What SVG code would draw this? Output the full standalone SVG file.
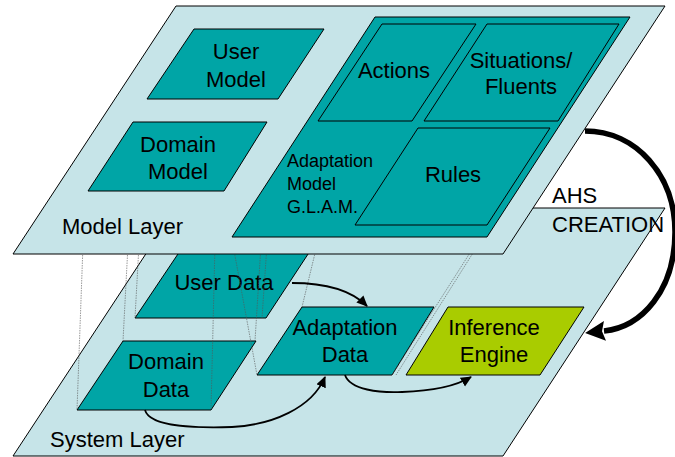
<svg xmlns="http://www.w3.org/2000/svg" width="675" height="457" viewBox="0 0 675 457">
<defs>
<style>
.layer{fill:#C6E4E8;stroke:#000;stroke-width:1}
.item{fill:#00A5A6;stroke:#000;stroke-width:1}
.eng{fill:#A9CC00;stroke:#000;stroke-width:1}
.proj{fill:none;stroke:#555;stroke-width:0.6;stroke-dasharray:1.5 1}
.arr{fill:none;stroke:#000;stroke-width:1.8}
.big{fill:none;stroke:#000;stroke-width:5.5}
text{font-family:"Liberation Sans",Arial,sans-serif;font-size:22px;fill:#000}
.c{text-anchor:middle}
.s{font-size:18px}
</style>
<marker id="ah" markerUnits="userSpaceOnUse" markerWidth="14" markerHeight="12" refX="10" refY="5" orient="auto" viewBox="0 0 14 12">
<path d="M0,0 L11,5 L0,10 z" fill="#000"/>
</marker>
<marker id="bh" markerUnits="userSpaceOnUse" markerWidth="22" markerHeight="22" refX="1" refY="10" orient="auto" viewBox="0 0 22 22">
<path d="M0,0 L20,10 L0,20 L3,10 z" fill="#000"/>
</marker>
</defs>

<g id="system-layer">
<polygon class="layer" points="176,208 665,208 503,456 13,456"/>
<text x="50" y="447">System Layer</text>
</g>
<g id="user-data">
<polygon class="item" points="184,245 314,245 266,318 135,318"/>
<text class="c" x="224" y="290">User Data</text>
</g>
<g id="domain-data">
<polygon class="item" points="123,341 256,341 211,410 77,410"/>
<text class="c" x="166" y="369">Domain</text>
<text class="c" x="166" y="397">Data</text>
</g>
<g id="adaptation-data">
<polygon class="item" points="302,307 434,307 392,375 257,375"/>
<text class="c" x="345" y="335">Adaptation</text>
<text class="c" x="345" y="362">Data</text>
</g>
<g id="inference-engine">
<polygon class="eng" points="448,307 584,307 540,375 406,375"/>
<text class="c" x="494" y="335">Inference</text>
<text class="c" x="494" y="362">Engine</text>
</g>

<g id="connectors">
<line class="proj" x1="83" y1="245" x2="77" y2="410"/>
<line class="proj" x1="128" y1="245" x2="123" y2="341"/>
<line class="proj" x1="139" y1="245" x2="135" y2="318"/>
<line class="proj" x1="215" y1="245" x2="211" y2="410"/>
<line class="proj" x1="233" y1="245" x2="257" y2="375"/>
<line class="proj" x1="261" y1="245" x2="255" y2="341"/>
<line class="proj" x1="267" y1="245" x2="262" y2="318"/>
<line class="proj" x1="317" y1="245" x2="302" y2="307"/>
<line class="proj" x1="478" y1="245" x2="396" y2="375"/>
<line class="proj" x1="475" y1="245" x2="392" y2="375"/>
<path class="arr" marker-end="url(#ah)" d="M292,283 C322,283 350,289 367,306"/>
<path class="arr" marker-end="url(#ah)" d="M145,410 C150,428 200,428 232,427 C272,425 312,408 325,377"/>
<path class="arr" marker-end="url(#ah)" d="M345,375 C350,390 380,393 402,392 C432,391 456,386 471,377"/>
<path class="big" marker-end="url(#bh)" d="M585,131 C636,131 675,175 675,232 C675,290 642,327 604,331"/>
</g>

<g id="model-layer">
<polygon class="layer" points="176,6 665,6 503,254 13,254"/>
<text x="62" y="234">Model Layer</text>
</g>
<g id="user-model">
<polygon class="item" points="194,29 324,29 278,99 147,99"/>
<text class="c" x="236" y="59">User</text>
<text class="c" x="236" y="87">Model</text>
</g>
<g id="domain-model">
<polygon class="item" points="133,122 267,122 224,191 88,191"/>
<text class="c" x="178" y="152">Domain</text>
<text class="c" x="178" y="179">Model</text>
</g>
<g id="adaptation-model">
<polygon class="item" points="375,17 630,17 487,237 232,237"/>
<text class="s" x="287" y="167">Adaptation</text>
<text class="s" x="287" y="190">Model</text>
<text class="s" x="287" y="213">G.L.A.M.</text>
</g>
<g id="actions">
<polygon class="item" points="382,24 476,24 412,121 318,121"/>
<text class="c" x="394" y="78">Actions</text>
</g>
<g id="situations">
<polygon class="item" points="487,24 619,24 558,121 424,121"/>
<text class="c" x="521" y="68">Situations/</text>
<text class="c" x="521" y="94">Fluents</text>
</g>
<g id="rules">
<polygon class="item" points="418,128 550,128 487,225 355,225"/>
<text class="c" x="453" y="182">Rules</text>
</g>
<g id="ahs-creation">
<text x="552" y="203">AHS</text>
<text x="552" y="232">CREATION</text>
</g>
</svg>
